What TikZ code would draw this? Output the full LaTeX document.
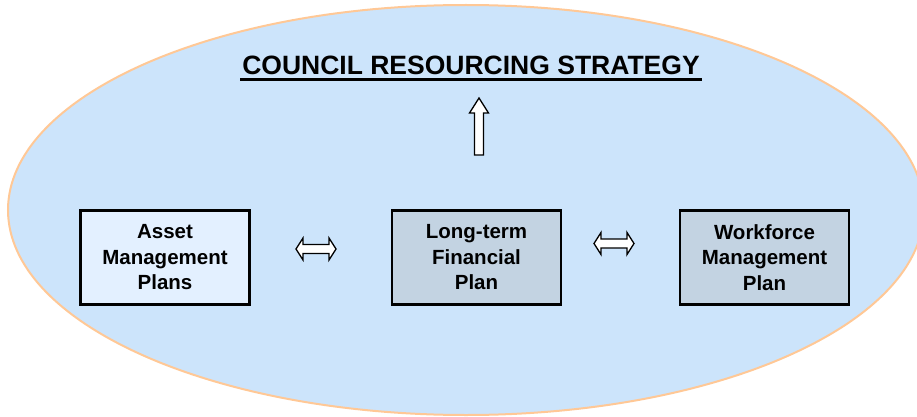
\documentclass[tikz,border=0pt]{standalone}
\usepackage{fontspec}
\setmainfont{Liberation Sans}
\definecolor{ellfill}{RGB}{204,228,251}
\definecolor{elledge}{RGB}{255,200,150}
\definecolor{lightbox}{RGB}{227,240,255}
\definecolor{darkbox}{RGB}{195,211,226}
\begin{document}
\begin{tikzpicture}[x=1pt,y=-1pt,
  planbox/.style={draw=black, line width=2.5pt, minimum width=169pt, minimum height=94pt, inner sep=0pt, align=center, font=\fontsize{20.5}{25.5}\selectfont\bfseries},
  blockarrow/.style={draw=black, fill=white, line width=1.3pt, line join=miter}]
\useasboundingbox (0,0) rectangle (917,417);
% ellipse
\fill[ellfill] (466,210) ellipse [x radius=458, y radius=205];
\draw[elledge, line width=2pt] (466,210) ellipse [x radius=458, y radius=205];
% title
\node[anchor=base, inner sep=0pt, font=\fontsize{26.5}{30}\selectfont\bfseries] (title) at (471,75) {COUNCIL RESOURCING STRATEGY};
\draw[line width=3pt] ([xshift=-2pt,yshift=-4.5pt]title.base west) -- ([xshift=2pt,yshift=-4.5pt]title.base east);
% boxes
\node[planbox, fill=lightbox] (asset) at (165,257.5) {Asset\\Management\\Plans};
\node[planbox, fill=darkbox] (ltfp) at (476.5,257.5) {Long-term\\Financial\\Plan};
\node[planbox, fill=darkbox] (work) at (764.5,257.5) {Workforce\\Management\\Plan};
% up arrow
\draw[blockarrow] (474.5,155) -- (474.5,113) -- (469.5,113) -- (479,98) -- (488.5,113) -- (483.5,113) -- (483.5,155) -- cycle;
% double arrow left
\draw[blockarrow] (296,249) -- (303,238) -- (303,244.5) -- (329,244.5) -- (329,238) -- (336,249) -- (329,260) -- (329,253.5) -- (303,253.5) -- (303,260) -- cycle;
% double arrow right
\draw[blockarrow] (594,243.5) -- (601,232.5) -- (601,239) -- (627,239) -- (627,232.5) -- (634,243.5) -- (627,254.5) -- (627,248) -- (601,248) -- (601,254.5) -- cycle;
\end{tikzpicture}
\end{document}
